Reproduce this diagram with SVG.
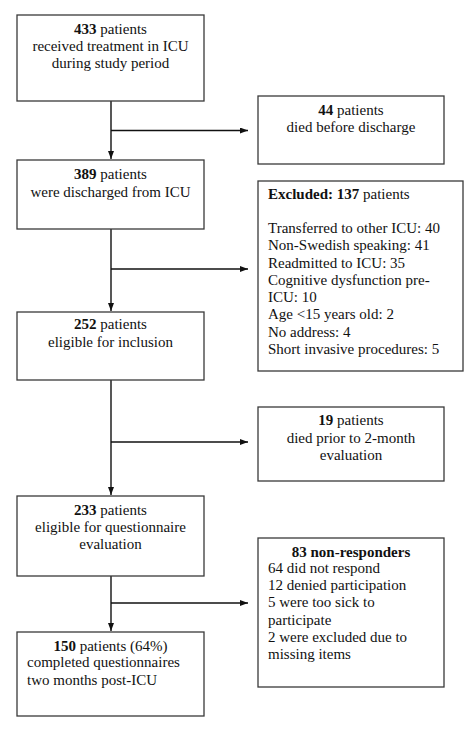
<svg xmlns="http://www.w3.org/2000/svg" width="474" height="756" viewBox="0 0 474 756">
<style>
.box{fill:#fff;stroke:#3a3a3a;stroke-width:1.3}
.t{font-family:"Liberation Serif","Times New Roman",serif;font-size:15px;fill:#111}
.c{text-anchor:middle}
.b{font-weight:bold}
.ln{fill:none;stroke:#111;stroke-width:1.4}
</style>
<defs>
<marker id="ah" viewBox="0 0 8 6" refX="8" refY="3" markerWidth="8" markerHeight="6" markerUnits="userSpaceOnUse" orient="auto">
<path d="M0,0 L8,3 L0,6 z" fill="#111"/>
</marker>
</defs>
<rect width="474" height="756" fill="#fff"/>
<g id="connectors">
<path class="ln" d="M111,101 V159" marker-end="url(#ah)"/>
<path class="ln" d="M111,130.5 H248" marker-end="url(#ah)"/>
<path class="ln" d="M111,229 V311" marker-end="url(#ah)"/>
<path class="ln" d="M111,269 H248" marker-end="url(#ah)"/>
<path class="ln" d="M111,380 V495" marker-end="url(#ah)"/>
<path class="ln" d="M111,442 H248" marker-end="url(#ah)"/>
<path class="ln" d="M111,576 V631" marker-end="url(#ah)"/>
<path class="ln" d="M111,603 H248" marker-end="url(#ah)"/>
</g>
<g id="n1">
<rect class="box" x="17" y="15" width="187" height="86"/>
<text class="t c" x="110.5" y="34"><tspan class="b">433</tspan> patients</text>
<text class="t c" x="110.5" y="51">received treatment in ICU</text>
<text class="t c" x="110.5" y="68">during study period</text>
</g>
<g id="n2">
<rect class="box" x="258" y="96" width="186" height="68"/>
<text class="t c" x="351" y="115"><tspan class="b">44</tspan> patients</text>
<text class="t c" x="351" y="132">died before discharge</text>
</g>
<g id="n3">
<rect class="box" x="17" y="160" width="187" height="69"/>
<text class="t c" x="110.5" y="179"><tspan class="b">389</tspan> patients</text>
<text class="t c" x="110.5" y="197">were discharged from ICU</text>
</g>
<g id="n4">
<rect class="box" x="258" y="181" width="205" height="190"/>
<text class="t" x="268" y="199"><tspan class="b">Excluded: 137</tspan> patients</text>
<text class="t" x="268" y="233">Transferred to other ICU: 40</text>
<text class="t" x="268" y="250">Non-Swedish speaking: 41</text>
<text class="t" x="268" y="268">Readmitted to ICU: 35</text>
<text class="t" x="268" y="285">Cognitive dysfunction pre-</text>
<text class="t" x="268" y="302">ICU: 10</text>
<text class="t" x="268" y="319">Age &lt;15 years old: 2</text>
<text class="t" x="268" y="337">No address: 4</text>
<text class="t" x="268" y="354">Short invasive procedures: 5</text>
</g>
<g id="n5">
<rect class="box" x="17" y="312" width="187" height="68"/>
<text class="t c" x="110.5" y="329"><tspan class="b">252</tspan> patients</text>
<text class="t c" x="110.5" y="347">eligible for inclusion</text>
</g>
<g id="n6">
<rect class="box" x="258" y="407" width="186" height="74"/>
<text class="t c" x="351" y="425"><tspan class="b">19</tspan> patients</text>
<text class="t c" x="351" y="443">died prior to 2-month</text>
<text class="t c" x="351" y="460">evaluation</text>
</g>
<g id="n7">
<rect class="box" x="17" y="496" width="187" height="80"/>
<text class="t c" x="110.5" y="515"><tspan class="b">233</tspan> patients</text>
<text class="t c" x="110.5" y="532">eligible for questionnaire</text>
<text class="t c" x="110.5" y="549">evaluation</text>
</g>
<g id="n8">
<rect class="box" x="258" y="538" width="186" height="149"/>
<text class="t c b" x="351" y="557">83 non-responders</text>
<text class="t" x="268" y="573">64 did not respond</text>
<text class="t" x="268" y="590">12 denied participation</text>
<text class="t" x="268" y="607">5 were too sick to</text>
<text class="t" x="268" y="625">participate</text>
<text class="t" x="268" y="642">2 were excluded due to</text>
<text class="t" x="268" y="659">missing items</text>
</g>
<g id="n9">
<rect class="box" x="17" y="632" width="187" height="84"/>
<text class="t c" x="110.5" y="651"><tspan class="b">150</tspan> patients (64%)</text>
<text class="t" x="27" y="667">completed questionnaires</text>
<text class="t" x="27" y="685">two months post-ICU</text>
</g>
</svg>
